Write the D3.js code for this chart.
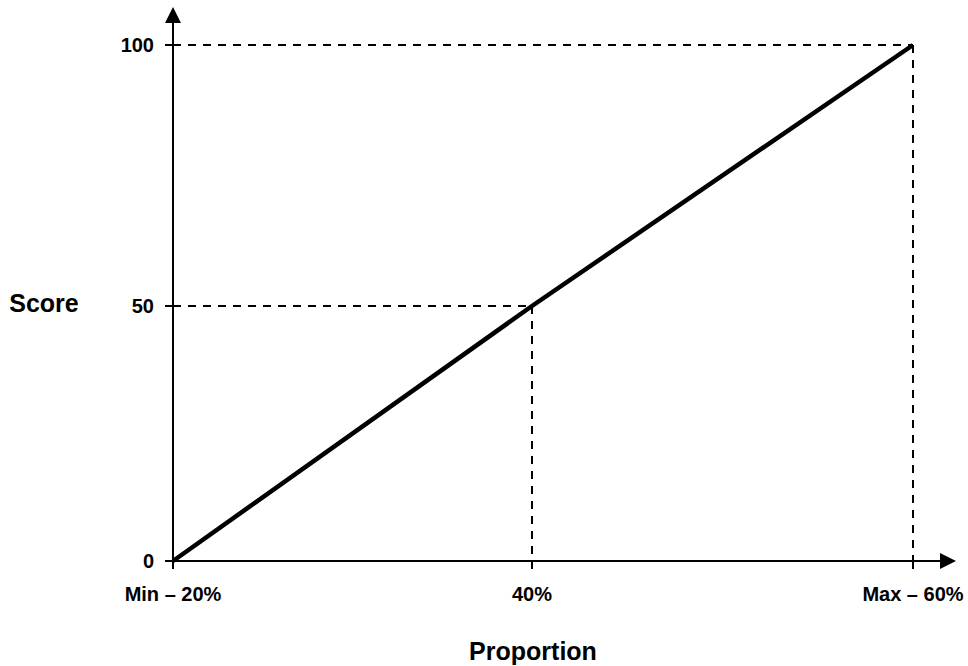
<!DOCTYPE html>
<html>
<head>
<meta charset="utf-8">
<script src="https://cdn.jsdelivr.net/npm/d3@7"></script>
<style>
  body { margin: 0; background: #fff; }
  text { font-family: "Liberation Sans", Arial, sans-serif; font-weight: bold; fill: #000; }
</style>
</head>
<body>
<div id="chart"></div>
<script>
// Data
const xTicks = [20, 40, 60];
const xTickLabels = ["Min \u2013 20%", "40%", "Max \u2013 60%"];
const yTicks = [0, 50, 100];
const yTickLabels = ["0", "50", "100"];
const proportion = [20, 40, 60];
const score = [0, 50, 100];
const guides = [[40, 50], [60, 100]];

const width = 968, height = 666;

const svg = d3.select("#chart").append("svg")
    .attr("width", width)
    .attr("height", height);

// piecewise scales to follow the picture's spacing
const x = d3.scaleLinear().domain(xTicks).range([173, 532, 913]);
const y = d3.scaleLinear().domain(yTicks).range([561, 306, 45]);

// dashed guide lines
guides.forEach(([gx, gy]) => {
    svg.append("line")
        .attr("x1", x(20)).attr("x2", x(gx))
        .attr("y1", y(gy)).attr("y2", y(gy))
        .attr("stroke", "#000").attr("stroke-width", 2)
        .attr("stroke-dasharray", "8,7");
    svg.append("line")
        .attr("x1", x(gx)).attr("x2", x(gx))
        .attr("y1", y(gy)).attr("y2", y(0) + 8)
        .attr("stroke", "#000").attr("stroke-width", 2)
        .attr("stroke-dasharray", "8,7");
});

// axes with arrows
svg.append("line")
    .attr("x1", x(20)).attr("x2", x(20))
    .attr("y1", y(0) + 8).attr("y2", 20)
    .attr("stroke", "#000").attr("stroke-width", 2);
svg.append("path")
    .attr("d", `M${x(20)},7 L${x(20) - 8},23 L${x(20) + 8},23 Z`)
    .attr("fill", "#000");

svg.append("line")
    .attr("x1", x(20) - 8).attr("x2", 944)
    .attr("y1", y(0)).attr("y2", y(0))
    .attr("stroke", "#000").attr("stroke-width", 2);
svg.append("path")
    .attr("d", `M956,${y(0)} L940,${y(0) - 8} L940,${y(0) + 8} Z`)
    .attr("fill", "#000");

// tick marks
yTicks.forEach(t => {
    svg.append("line")
        .attr("x1", x(20) - 8).attr("x2", x(20))
        .attr("y1", y(t)).attr("y2", y(t))
        .attr("stroke", "#000").attr("stroke-width", 2);
});
xTicks.forEach(t => {
    svg.append("line")
        .attr("x1", x(t)).attr("x2", x(t))
        .attr("y1", y(0)).attr("y2", y(0) + 8)
        .attr("stroke", "#000").attr("stroke-width", 2);
});

// tick labels
svg.selectAll(".ylab")
    .data(yTicks)
    .enter().append("text")
    .attr("class", "ylab")
    .attr("x", x(20) - 19)
    .attr("y", d => y(d))
    .attr("dy", "0.35em")
    .attr("text-anchor", "end")
    .style("font-size", "20px")
    .text((d, i) => yTickLabels[i]);

svg.selectAll(".xlab")
    .data(xTicks)
    .enter().append("text")
    .attr("class", "xlab")
    .attr("x", d => x(d))
    .attr("y", 601)
    .attr("text-anchor", "middle")
    .style("font-size", "20px")
    .text((d, i) => xTickLabels[i]);

// axis titles
svg.append("text")
    .attr("x", 44)
    .attr("y", 312)
    .attr("text-anchor", "middle")
    .style("font-size", "25px")
    .text("Score");

svg.append("text")
    .attr("x", 533)
    .attr("y", 660)
    .attr("text-anchor", "middle")
    .style("font-size", "25px")
    .text("Proportion");

// the score line
const line = d3.line()
    .x(d => x(d[0]))
    .y(d => y(d[1]));

svg.append("path")
    .datum(proportion.map((p, i) => [p, score[i]]))
    .attr("d", line)
    .attr("fill", "none")
    .attr("stroke", "#000")
    .attr("stroke-width", 4.5);
</script>
</body>
</html>
